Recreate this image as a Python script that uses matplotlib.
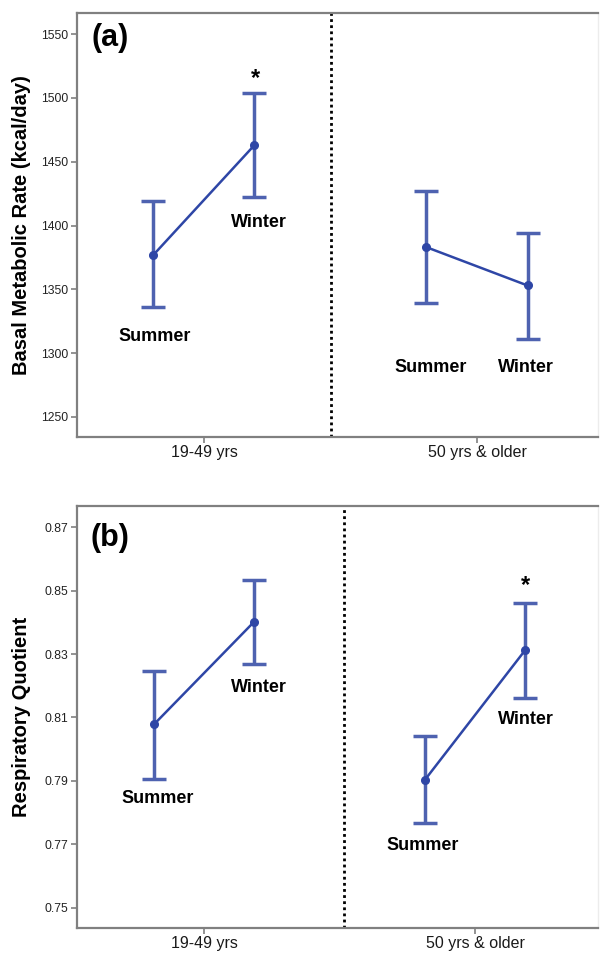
import numpy as np
import matplotlib
matplotlib.use("Agg")
import matplotlib.pyplot as plt

plt.rcParams['font.family'] = ['Liberation Sans', 'DejaVu Sans']

age_groups = ["19-49 yrs", "50 yrs & older"]
seasons = ["Summer", "Winter"]

# Basal metabolic rate (kcal/day): mean, lower and upper CI per age group
bmr_mean = [[1377, 1463], [1383, 1353]]
bmr_low = [[1336, 1422], [1339, 1311]]
bmr_high = [[1419, 1504], [1427, 1394]]

# Respiratory quotient
rq_mean = [[0.8078, 0.8402], [0.7903, 0.8312]]
rq_low = [[0.7907, 0.8269], [0.7768, 0.8163]]
rq_high = [[0.8247, 0.8535], [0.8042, 0.8460]]

bmr_ticks = [1250, 1300, 1350, 1400, 1450, 1500, 1550]
rq_ticks = [0.75, 0.77, 0.79, 0.81, 0.83, 0.85, 0.87]

BAR_COLOR = "#4e62b0"
LINE_COLOR = "#2e46a6"
SPINE_COLOR = "#808080"
OFFSET = 0.185


def draw_panel(ax, means, lows, highs):
    for g in range(len(age_groups)):
        xs = np.array([g - OFFSET, g + OFFSET])
        m = np.array(means[g])
        err = np.array([m - np.array(lows[g]), np.array(highs[g]) - m])
        ax.errorbar(xs, m, yerr=err, fmt='none', ecolor=BAR_COLOR,
                    elinewidth=2.5, capsize=8.5, capthick=2.5, zorder=2)
        ax.plot(xs, m, color=LINE_COLOR, lw=1.8, marker='o', ms=5.5,
                mfc=LINE_COLOR, mec=LINE_COLOR, zorder=3)


def style_axes(ax, xlim, ylim, ticks, fmt, ylabel, sep_x):
    ax.set_xlim(*xlim)
    ax.set_ylim(*ylim)
    ax.set_xticks(range(len(age_groups)))
    ax.set_xticklabels(age_groups, fontsize=11.5, color="#1a1a1a")
    ax.set_yticks(ticks)
    ax.set_yticklabels([fmt.format(t) for t in ticks], fontsize=8.7,
                       color="#222222")
    ax.tick_params(axis='both', length=4, width=1.2, color=SPINE_COLOR, pad=2)
    for name, sp in ax.spines.items():
        sp.set_color(SPINE_COLOR)
        sp.set_linewidth(1.6)
    ax.spines['right'].set_color("#ececec")
    ax.spines['right'].set_linewidth(1.0)
    ax.set_ylabel(ylabel, fontsize=14.5, fontweight='bold')
    ax.yaxis.set_label_coords(-0.088, 0.5)
    ax.axvline(sep_x, color='black', ls=(0, (1, 1.2)), lw=2.0, zorder=1)


fig = plt.figure(figsize=(6, 9.56), dpi=100)
ax_a = fig.add_axes([0.1283, 0.5429, 0.8683, 0.4435])
ax_b = fig.add_axes([0.1283, 0.0293, 0.8683, 0.4414])

draw_panel(ax_a, bmr_mean, bmr_low, bmr_high)
style_axes(ax_a, (-0.465, 1.443), (1234.3, 1566.5), bmr_ticks, "{:d}",
           "Basal Metabolic Rate (kcal/day)", 0.465)

draw_panel(ax_b, rq_mean, rq_low, rq_high)
style_axes(ax_b, (-0.469, 1.454), (0.7436, 0.8767), rq_ticks, "{:.2f}",
           "Respiratory Quotient", 0.517)

lab = dict(fontsize=13, fontweight='bold', ha='center', va='center')
ax_a.text(-0.18, 1313, "Summer", **lab)
ax_a.text(0.20, 1402, "Winter", **lab)
ax_a.text(0.83, 1289, "Summer", **lab)
ax_a.text(1.18, 1289, "Winter", **lab)
ax_a.text(0.19, 1515, "*", fontsize=17, fontweight='bold', ha='center',
          va='center')
ax_a.text(-0.344, 1547, "(a)", fontsize=22, fontweight='bold', ha='center',
          va='center')

ax_b.text(-0.173, 0.7843, "Summer", **lab)
ax_b.text(0.203, 0.8196, "Winter", **lab)
ax_b.text(0.808, 0.7695, "Summer", **lab)
ax_b.text(1.188, 0.8095, "Winter", **lab)
ax_b.text(1.188, 0.8515, "*", fontsize=17, fontweight='bold', ha='center',
          va='center')
ax_b.text(-0.347, 0.8665, "(b)", fontsize=22, fontweight='bold', ha='center',
          va='center')

fig.savefig("out.png", dpi=100)
